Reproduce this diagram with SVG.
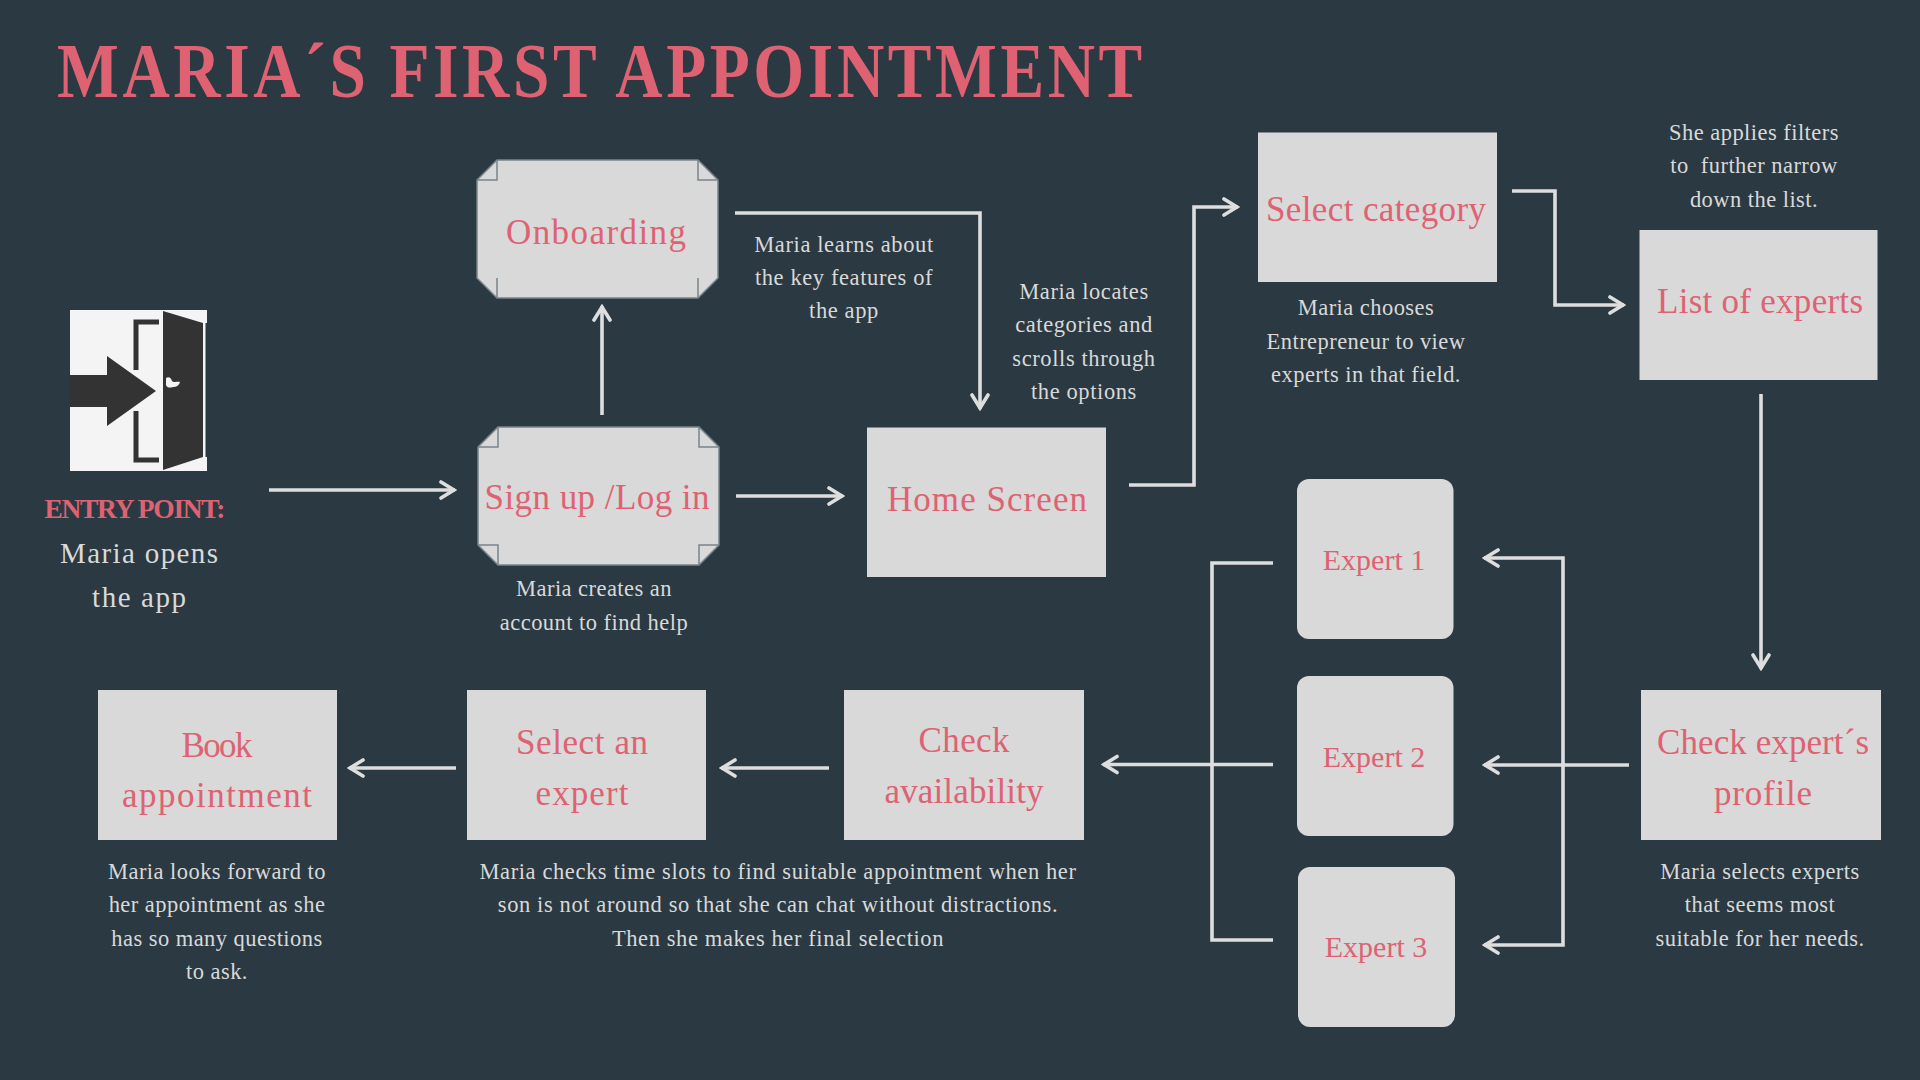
<svg xmlns="http://www.w3.org/2000/svg" width="1920" height="1080" viewBox="0 0 1920 1080">
<style>
text{font-family:"Liberation Serif",serif;text-anchor:middle}
.l{font-size:35px;fill:#de6272}
.e{font-size:30px;fill:#de6272}
.d{font-size:22.5px;fill:#d9d9d9;letter-spacing:.6px}
.s{font-size:22.5px;fill:#d9d9d9;letter-spacing:.45px}
.b{fill:#d9d9d9}
.f{fill:#d9d9d9;stroke:#78858b;stroke-width:1.5}
.c{fill:none;stroke:#78858b;stroke-width:1.5}
.k{fill:none;stroke:#dedede;stroke-width:3.6}
</style>
<defs>
<marker id="a" viewBox="0 0 20 24" refX="18" refY="12" markerUnits="userSpaceOnUse" markerWidth="20" markerHeight="24" orient="auto"><path d="M4 4L17 12L4 20" fill="none" stroke="#dedede" stroke-width="3.6" stroke-linecap="round"/></marker>
</defs>
<rect width="1920" height="1080" fill="#2b3a42"/>
<text id="title" transform="translate(57 97) scale(.84 1)" textLength="1292" lengthAdjust="spacing" style="text-anchor:start;font-size:78px;font-weight:bold;fill:#de6272">MARIA´S FIRST APPOINTMENT</text>
<g id="connectors">
<path class="k" marker-end="url(#a)" d="M269 490H455"/>
<path class="k" marker-end="url(#a)" d="M736 496H843"/>
<path class="k" marker-end="url(#a)" d="M602 415V306"/>
<path class="k" marker-end="url(#a)" d="M735 213H980V409"/>
<path class="k" marker-end="url(#a)" d="M1129 485H1194V207H1238"/>
<path class="k" marker-end="url(#a)" d="M1512 191H1555V305H1624"/>
<path class="k" marker-end="url(#a)" d="M1761 394V669"/>
<path class="k" marker-end="url(#a)" d="M1629 765H1484"/>
<path class="k" marker-end="url(#a)" d="M1563 765V558H1484"/>
<path class="k" marker-end="url(#a)" d="M1563 765V945H1484"/>
<path class="k" d="M1273 563H1212V940H1273"/>
<path class="k" marker-end="url(#a)" d="M1273 764.500H1103"/>
<path class="k" marker-end="url(#a)" d="M829 768H721"/>
<path class="k" marker-end="url(#a)" d="M456 768H349"/>
</g>
<g id="entry">
<rect x="70" y="310" width="137" height="161" fill="#f4f4f4"/>
<rect x="205.500" y="323" width="2" height="134" fill="#2b3a42"/>
<path d="M159 322H136V370M136 411V460H159" fill="none" stroke="#333" stroke-width="5"/>
<path d="M70 375H107V356L156 391L107 426V407H70Z" fill="#333"/>
<path d="M163 311L203 323V457L163 470Z" fill="#333"/>
<path d="M166 378C169 376 171 378 172 381C174 383 178 381 180 382C179 386 176 387 173 387C170 388 167 388 166 385Z" fill="#f4f4f4"/>
<text x="135" y="518" textLength="181" lengthAdjust="spacing" style="font-size:27.5px;font-weight:bold;fill:#de6272">ENTRY POINT:</text>
<text x="139" y="563" textLength="158" lengthAdjust="spacing" style="font-size:29px;fill:#d9d9d9">Maria opens</text>
<text x="139" y="607" textLength="94" lengthAdjust="spacing" style="font-size:29px;fill:#d9d9d9">the app</text>
</g>
<g id="onboarding">
<path class="f" d="M497 160H698L718 180V278L698 298H497L477 278V180Z"/>
<path class="c" d="M497 160V180H477M698 160V180H718M497 278V298M698 278V298"/>
<text class="l" x="596" y="244" textLength="180">Onboarding</text>
</g>
<g id="signup">
<path class="f" d="M498 427H699L719 447V545L699 565H498L478 545V447Z"/>
<path class="c" d="M498 427V447H478M699 427V447H719M478 545H498V565M719 545H699V565"/>
<text class="l" x="597" y="509" textLength="225">Sign up /Log in</text>
</g>
<g id="home"><rect class="b" x="867" y="427.500" width="239" height="149.500"/><text class="l" x="987" y="511" textLength="200">Home Screen</text></g>
<g id="category"><rect class="b" x="1258" y="132.500" width="239" height="149.500"/><text class="l" x="1376" y="221" textLength="220">Select category</text></g>
<g id="list"><rect class="b" x="1639.500" y="230" width="238" height="150"/><text class="l" x="1760" y="313" textLength="206">List of experts</text></g>
<g id="profile"><rect class="b" x="1641" y="690" width="240" height="150"/><text class="l" x="1763" y="754" textLength="212">Check expert´s</text><text class="l" x="1763" y="805" textLength="98">profile</text></g>
<g id="availability"><rect class="b" x="844" y="690" width="240" height="150"/><text class="l" x="964" y="752" textLength="91">Check</text><text class="l" x="964" y="803" textLength="159">availability</text></g>
<g id="select-expert"><rect class="b" x="467" y="690" width="239" height="150"/><text class="l" x="582" y="754" textLength="132">Select an</text><text class="l" x="582" y="805" textLength="93">expert</text></g>
<g id="book"><rect class="b" x="98" y="690" width="239" height="150"/><text class="l" x="217" y="757" textLength="71">Book</text><text class="l" x="217" y="807" textLength="190">appointment</text></g>
<g id="expert1"><rect class="b" x="1297" y="479" width="156.500" height="160" rx="12"/><text class="e" x="1374" y="570">Expert 1</text></g>
<g id="expert2"><rect class="b" x="1297" y="676" width="156.500" height="160" rx="12"/><text class="e" x="1374" y="767">Expert 2</text></g>
<g id="expert3"><rect class="b" x="1298" y="867" width="157" height="160" rx="12"/><text class="e" x="1376" y="957">Expert 3</text></g>
<g id="descriptions">
<text class="d" x="844" y="252">Maria learns about</text><text class="d" x="844" y="285">the key features of</text><text class="d" x="844" y="318">the app</text>
<text class="d" x="1084" y="299">Maria locates</text><text class="d" x="1084" y="332">categories and</text><text class="d" x="1084" y="366">scrolls through</text><text class="d" x="1084" y="399">the options</text>
<text class="s" x="1366" y="315">Maria chooses</text><text class="s" x="1366" y="349">Entrepreneur to view</text><text class="s" x="1366" y="382">experts in that field.</text>
<text class="s" x="1754" y="140">She applies filters</text><text class="s" x="1754" y="173">to&#160; further narrow</text><text class="s" x="1754" y="207">down the list.</text>
<text class="s" x="594" y="596">Maria creates an</text><text class="s" x="594" y="630">account to find help</text>
<text class="s" x="217" y="879">Maria looks forward to</text><text class="s" x="217" y="912">her appointment as she</text><text class="s" x="217" y="946">has so many questions</text><text class="s" x="217" y="979">to ask.</text>
<text class="d" x="778" y="879">Maria checks time slots to find suitable appointment when her</text><text class="d" x="778" y="912">son is not around so that she can chat without distractions.</text><text class="d" x="778" y="946">Then she makes her final selection</text>
<text class="s" x="1760" y="879">Maria selects experts</text><text class="s" x="1760" y="912">that seems most</text><text class="s" x="1760" y="946">suitable for her needs.</text>
</g>
</svg>
